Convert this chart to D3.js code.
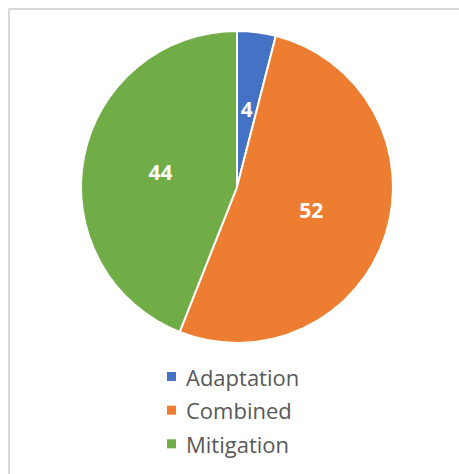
<!DOCTYPE html>
<html>
<head>
<meta charset="utf-8">
<script src="https://cdn.jsdelivr.net/npm/d3@7"></script>
<style>
  body { margin: 0; background: #fff; }
</style>
</head>
<body>
<div id="chart"></div>
<script>
// data
var categories = ["Adaptation", "Combined", "Mitigation"];
var values = [4, 52, 44];
var colors = ["#4472C4", "#ED7D31", "#70AD47"];

var width = 459, height = 474;
var cx = 237, cy = 187, radius = 156;

var svg = d3.select("#chart")
  .append("svg")
    .attr("width", width)
    .attr("height", height);

// chart border
svg.append("rect")
  .attr("x", 9)
  .attr("y", 9)
  .attr("width", width)
  .attr("height", height)
  .attr("fill", "#fff")
  .attr("stroke", "#d9d9d9")
  .attr("stroke-width", 2);

var data = categories.map(function(c, i) { return {name: c, value: values[i], color: colors[i]}; });

var pie = d3.pie()
  .sort(null)
  .value(function(d) { return d.value; });

var arc = d3.arc()
  .innerRadius(0)
  .outerRadius(radius);

var labelArc = d3.arc()
  .innerRadius(radius / 2)
  .outerRadius(radius / 2);

var g = svg.append("g")
  .attr("transform", "translate(" + cx + "," + cy + ")");

var slices = g.selectAll(".slice")
  .data(pie(data))
  .enter()
  .append("g")
    .attr("class", "slice");

slices.append("path")
  .attr("d", arc)
  .attr("fill", function(d) { return d.data.color; })
  .attr("stroke", "#fff")
  .attr("stroke-width", 2);

slices.append("text")
  .attr("transform", function(d) { return "translate(" + labelArc.centroid(d) + ")"; })
  .attr("text-anchor", "middle")
  .attr("dy", "0.35em")
  .style("font-family", "'Open Sans', sans-serif")
  .style("font-weight", "bold")
  .style("font-size", "21px")
  .attr("fill", "#fff")
  .text(function(d) { return d.data.value; });

// legend
var legendY = d3.scaleBand()
  .domain(categories)
  .range([361, 462]);

var legend = svg.selectAll(".legend")
  .data(data)
  .enter()
  .append("g")
    .attr("class", "legend")
    .attr("transform", function(d) { return "translate(167," + legendY(d.name) + ")"; });

legend.append("rect")
  .attr("x", 0)
  .attr("y", 11)
  .attr("width", 9)
  .attr("height", 9)
  .attr("fill", function(d) { return d.color; });

legend.append("text")
  .attr("x", 19)
  .attr("y", 17)
  .attr("dy", "0.35em")
  .style("font-family", "'Open Sans', sans-serif")
  .style("font-size", "22px")
  .attr("fill", "#595959")
  .text(function(d) { return d.name; });
</script>
</body>
</html>
